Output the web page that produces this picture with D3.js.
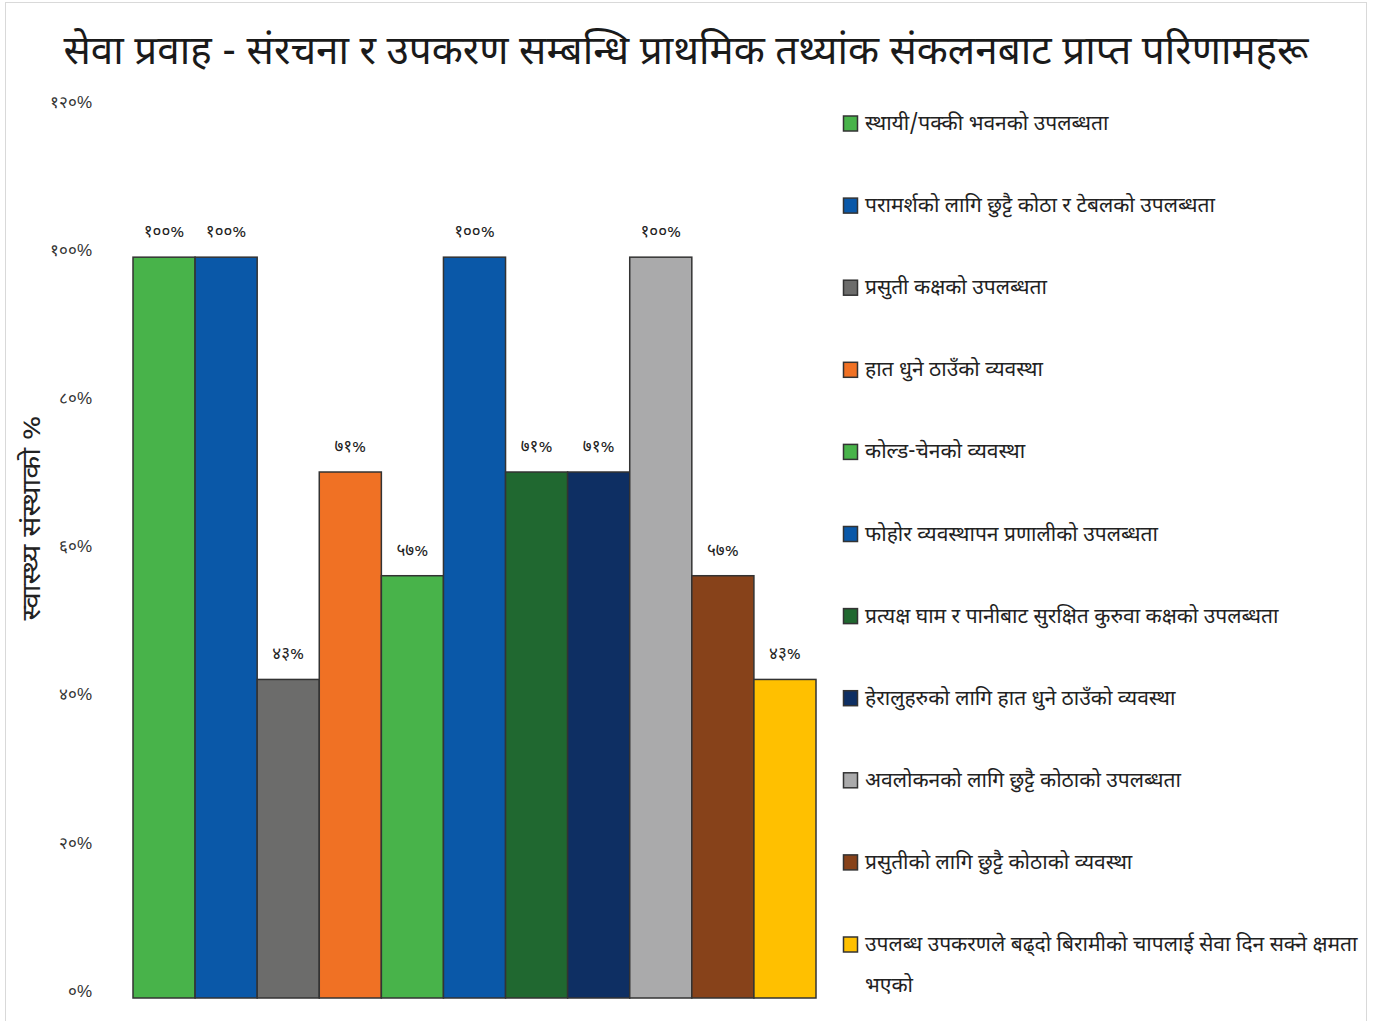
<!DOCTYPE html>
<html>
<head>
<meta charset="utf-8">
<script src="https://cdn.jsdelivr.net/npm/d3@7"></script>
<style>
  body { margin: 0; background: #fff; }
  svg { display: block; font-family: "Noto Sans Devanagari", "Lohit Devanagari", "FreeSans", "Noto Sans", "DejaVu Sans", sans-serif; }
</style>
</head>
<body>
<svg id="chart" width="1378" height="1021"></svg>
<script>
const title = "सेवा प्रवाह - संरचना र उपकरण सम्बन्धि प्राथमिक तथ्यांक संकलनबाट प्राप्त परिणामहरू";
const yLabel = "स्वास्थ्य संस्थाको %";

const categories = [
  "स्थायी/पक्की भवनको उपलब्धता",
  "परामर्शको लागि छुट्टै कोठा र टेबलको उपलब्धता",
  "प्रसुती कक्षको उपलब्धता",
  "हात धुने ठाउँको व्यवस्था",
  "कोल्ड-चेनको व्यवस्था",
  "फोहोर व्यवस्थापन प्रणालीको उपलब्धता",
  "प्रत्यक्ष घाम र पानीबाट सुरक्षित कुरुवा कक्षको उपलब्धता",
  "हेरालुहरुको लागि हात धुने ठाउँको व्यवस्था",
  "अवलोकनको लागि छुट्टै कोठाको उपलब्धता",
  "प्रसुतीको लागि छुट्टै कोठाको व्यवस्था",
  "उपलब्ध उपकरणले बढ्दो बिरामीको चापलाई सेवा दिन सक्ने क्षमता भएको"
];
const values = [100, 100, 43, 71, 57, 100, 71, 71, 100, 57, 43];
const colors = ["#48b34a", "#0a58a8", "#6c6c6b", "#f07124", "#48b34a", "#0a58a8",
                "#206830", "#0e2f63", "#aaaaab", "#87421a", "#ffc000"];
const yTicks = [0, 20, 40, 60, 80, 100, 120];

const devDigits = "०१२३४५६७८९";
const toDev = s => String(s).replace(/[0-9]/g, d => devDigits[+d]);

const svg = d3.select("#chart");

// outer frame
svg.append("rect")
  .attr("x", 5.5).attr("y", 2.5)
  .attr("width", 1361).attr("height", 1040)
  .attr("fill", "none")
  .attr("stroke", "#d9d9d9")
  .attr("stroke-width", 1);

svg.append("text")
  .attr("x", 686).attr("y", 64)
  .attr("text-anchor", "middle")
  .attr("font-size", "40px")
  .attr("textLength", 1245)
  .attr("lengthAdjust", "spacingAndGlyphs")
  .attr("fill", "#1a1a1a")
  .text(title);

const x = d3.scaleBand().domain(d3.range(categories.length)).range([133, 816]).padding(0);
const y = d3.scaleLinear().domain([0, 120]).range([998, 109]);

const yAxis = svg.append("g")
  .attr("transform", "translate(92,0)")
  .call(d3.axisLeft(y).tickValues(yTicks).tickSize(0).tickPadding(0).tickFormat(d => toDev(d) + "%"));
yAxis.select(".domain").remove();
yAxis.selectAll("text")
  .attr("font-size", "17px")
  .attr("fill", "#333")
  .attr("dy", "-0.1em")
  .style("font-family", "inherit");

svg.append("text")
  .attr("transform", "translate(40,518) rotate(-90)")
  .attr("text-anchor", "middle")
  .attr("font-size", "26px")
  .attr("textLength", 205)
  .attr("lengthAdjust", "spacingAndGlyphs")
  .attr("fill", "#222")
  .text(yLabel);

svg.append("g").selectAll("rect")
  .data(values)
  .join("rect")
  .attr("x", (d, i) => x(i))
  .attr("y", d => y(d))
  .attr("width", x.bandwidth())
  .attr("height", d => y(0) - y(d))
  .attr("fill", (d, i) => colors[i])
  .attr("stroke", "#333")
  .attr("stroke-width", 1.5);

svg.append("g").selectAll("text")
  .data(values)
  .join("text")
  .attr("x", (d, i) => x(i) + x.bandwidth() / 2)
  .attr("y", d => y(d) - 20)
  .attr("text-anchor", "middle")
  .attr("font-size", "17px")
  .attr("fill", "#222")
  .text(d => toDev(d) + "%");

// legend
const legend = svg.append("g");
const rowY = d3.scaleLinear().domain([0, categories.length - 1]).range([123, 944]);
categories.forEach((c, i) => {
  const cy = rowY(i);
  legend.append("rect")
    .attr("x", 843.5).attr("y", cy - 7)
    .attr("width", 14).attr("height", 15)
    .attr("fill", colors[i])
    .attr("stroke", "#333")
    .attr("stroke-width", 1.5);
  const t = legend.append("text")
    .attr("x", 865).attr("y", cy + 7)
    .attr("font-size", "21px")
    .attr("fill", "#222");
  // wrap to fit the panel width
  const words = c.split(" ");
  let line = [];
  let tspan = t.append("tspan").attr("x", 865);
  words.forEach(w => {
    line.push(w);
    tspan.text(line.join(" "));
    if (tspan.node().getComputedTextLength() > 496 && line.length > 1) {
      line.pop();
      tspan.text(line.join(" "));
      line = [w];
      tspan = t.append("tspan").attr("x", 865).attr("dy", "41px").text(w);
    }
  });
});
</script>
</body>
</html>
